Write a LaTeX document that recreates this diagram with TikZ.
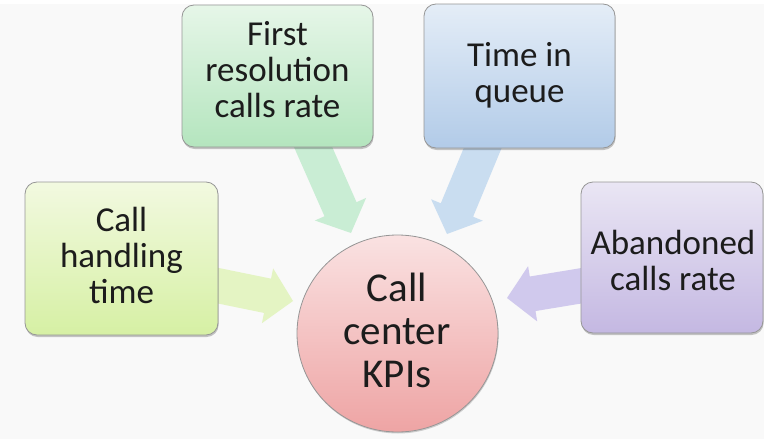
\documentclass[tikz,border=0pt]{standalone}
\usepackage{fontspec}
\setmainfont{Carlito}
\usetikzlibrary{calc,shapes.geometric,shadows}
\definecolor{txtc}{RGB}{28,28,28}
\definecolor{bordc}{RGB}{150,150,150}
\definecolor{bgc}{RGB}{249,249,249}
\definecolor{handT}{RGB}{242,249,224}
\definecolor{handB}{RGB}{214,240,164}
\definecolor{firstT}{RGB}{230,246,232}
\definecolor{firstB}{RGB}{180,229,190}
\definecolor{queueT}{RGB}{228,237,247}
\definecolor{queueB}{RGB}{178,203,232}
\definecolor{abanT}{RGB}{234,230,244}
\definecolor{abanB}{RGB}{196,184,226}
\definecolor{kpiT}{RGB}{250,226,226}
\definecolor{kpiB}{RGB}{238,164,164}
\definecolor{arr1}{RGB}{226,244,190}
\definecolor{arr2}{RGB}{196,236,208}
\definecolor{arr3}{RGB}{196,218,240}
\definecolor{arr4}{RGB}{204,196,236}
\newcommand{\blockarrow}[3]{%
  \coordinate (#1n) at ($(#2)!26pt!(#1)$);
  \fill[#3] ($(#1)!17.5pt!90:(#2)$) -- ($(#1n)!17.5pt!-90:(#1)$) --
    ($(#1n)!28pt!-90:(#1)$) -- (#2) -- ($(#1n)!28pt!90:(#1)$) --
    ($(#1n)!17.5pt!90:(#1)$) -- ($(#1)!17.5pt!-90:(#2)$) -- cycle;}
\begin{document}
\begin{tikzpicture}[x=1pt,y=-1pt,
  kbox/.style={draw=bordc, line width=0.8pt, rounded corners=12pt, inner sep=0pt,
    general shadow={shadow xshift=0.6pt, shadow yshift=-2pt, fill=black, opacity=0.22}},
  boxtext/.style={align=center, text=txtc, font=\fontsize{35}{36}\selectfont, inner sep=0pt},
  kpi/.style={ellipse, draw=bordc, line width=0.8pt, inner sep=0pt,
    top color=kpiT, bottom color=kpiB,
    general shadow={shadow xshift=0.6pt, shadow yshift=-1.5pt, fill=black, opacity=0.18}},
  kpitext/.style={align=center, text=txtc, font=\fontsize{41}{43}\selectfont, inner sep=0pt},
  arrowfill/.style={fill=#1, fill opacity=0.9}]
\useasboundingbox (0,0) rectangle (764,439);
\fill[bgc] (0,0) rectangle (764,439);
\fill[white] (0,0) rectangle (764,4);
% arrow end points
\coordinate (a1s) at (205,283); \coordinate (a1t) at (293,301);
\coordinate (a2s) at (310,140); \coordinate (a2t) at (351,233);
\coordinate (a3s) at (486,140); \coordinate (a3t) at (447,234);
\coordinate (a4s) at (592,284); \coordinate (a4t) at (507,298);
\blockarrow{a1s}{a1t}{arrowfill=arr1}
\blockarrow{a2s}{a2t}{arrowfill=arr2}
\blockarrow{a3s}{a3t}{arrowfill=arr3}
\blockarrow{a4s}{a4t}{arrowfill=arr4}
% boxes
\node[kbox, minimum width=193pt, minimum height=153pt, top color=handT, bottom color=handB]
  (hand) at (121.5,258.5) {};
\node[kbox, minimum width=191pt, minimum height=142pt, top color=firstT, bottom color=firstB]
  (first) at (277.5,76) {};
\node[kbox, minimum width=191pt, minimum height=144pt, top color=queueT, bottom color=queueB]
  (queue) at (519.5,76) {};
\node[kbox, minimum width=182pt, minimum height=151pt, top color=abanT, bottom color=abanB]
  (aban) at (672,257.5) {};
\node[kpi, minimum width=201pt, minimum height=197pt] (kpi) at (397.5,333.5) {};
% labels
\node[boxtext] (handlabel) at (121.5,255) {Call\\handling\\time};
\node[boxtext] (firstlabel) at (277.5,70) {First\\resolution\\calls rate};
\node[boxtext] (queuelabel) at (519.5,75) {Time in\\queue};
\node[boxtext] (abanlabel) at (673,260) {Abandoned\\calls rate};
\node[kpitext] (kpilabel) at (397,330) {Call\\center\\KPIs};
\end{tikzpicture}
\end{document}
